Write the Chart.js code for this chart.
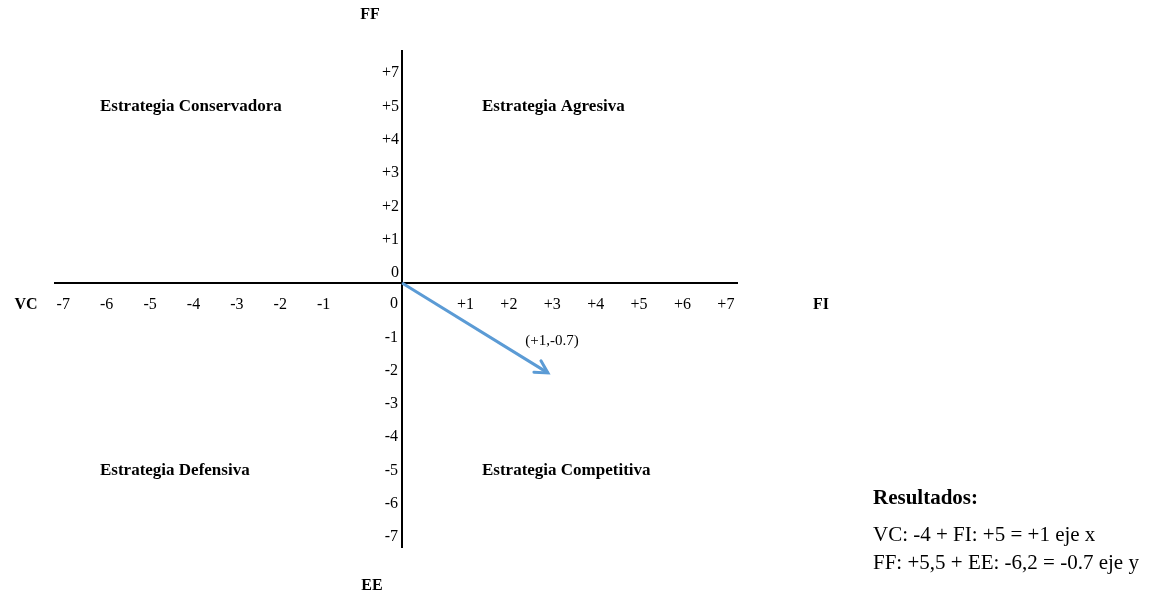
<!DOCTYPE html>
<html>
<head>
<meta charset="utf-8">
<title>Matriz PEEA</title>
<script src="https://cdn.jsdelivr.net/npm/chart.js@4.4.1/dist/chart.umd.min.js"></script>
<style>
  html, body { margin: 0; padding: 0; background: #fff; }
  #wrap { width: 1149px; height: 594px; }
</style>
</head>
<body>
<div id="wrap"><canvas id="peeaChart" width="1149" height="594"></canvas></div>
<script>
// tick labels as they are printed on the figure (upper half goes +5 -> +7)
const xTickLabels = ['-7', '-6', '-5', '-4', '-3', '-2', '-1', '+1', '+2', '+3', '+4', '+5', '+6', '+7'];
const xTickValues = [-7, -6, -5, -4, -3, -2, -1, 1, 2, 3, 4, 5, 6, 7];
const yTickLabelsUp = ['+7', '+5', '+4', '+3', '+2', '+1', '0'];
const yTickValuesUp = [6, 5, 4, 3, 2, 1, 0];
const yTickLabelsDown = ['0', '-1', '-2', '-3', '-4', '-5', '-6', '-7'];
const yTickValuesDown = [0, -1, -2, -3, -4, -5, -6, -7];

// axis names: left, right, top, bottom
const axisNames = ['VC', 'FI', 'FF', 'EE'];
// quadrants: top-left, top-right, bottom-left, bottom-right
const quadrants = ['Estrategia Conservadora', 'Estrategia Agresiva', 'Estrategia Defensiva', 'Estrategia Competitiva'];

// resulting vector (as drawn on the figure)
const vectorX = [0, 3.36];
const vectorY = [0, -2.7];
const vectorLabel = '(+1,-0.7)';

const results = ['Resultados:', 'VC: -4 + FI: +5 = +1 eje x', 'FF: +5,5 + EE: -6,2 = -0.7 eje y'];

const serif = '"Liberation Serif", "Times New Roman", serif';
const arrowColor = '#5B9BD5';

// draws the cross axes, the tick labels and all the text around the chart
const peeaPlugin = {
    id: 'peea',
    beforeDatasetsDraw(chart) {
        const { ctx, chartArea: area, scales: { x, y } } = chart;
        const x0 = Math.round(x.getPixelForValue(0));
        const y0 = Math.round(y.getPixelForValue(0));
        ctx.save();
        ctx.strokeStyle = '#000';
        ctx.lineWidth = 2;
        ctx.beginPath();
        ctx.moveTo(area.left, y0);
        ctx.lineTo(area.right, y0);
        ctx.moveTo(x0, area.top);
        ctx.lineTo(x0, area.bottom);
        ctx.stroke();

        ctx.fillStyle = '#000';
        ctx.textBaseline = 'middle';
        ctx.font = '16px ' + serif;
        ctx.textAlign = 'center';
        xTickValues.forEach((v, i) => {
            // labels sit off their tick, as in the original drawing
            const shift = v < 0 ? -35 : 20;
            ctx.fillText(xTickLabels[i], x.getPixelForValue(v) + shift, y0 + 22);
        });
        ctx.textAlign = 'right';
        yTickValuesUp.forEach((v, i) => {
            ctx.fillText(yTickLabelsUp[i], x0 - 3, y.getPixelForValue(v) - 10);
        });
        yTickValuesDown.forEach((v, i) => {
            ctx.fillText(yTickLabelsDown[i], x0 - 4, y.getPixelForValue(v) + 21);
        });

        // axis names
        ctx.font = 'bold 16px ' + serif;
        ctx.textAlign = 'center';
        ctx.fillText(axisNames[0], area.left - 28, y0 + 22);
        ctx.fillText(axisNames[1], area.right + 83, y0 + 22);
        ctx.fillText(axisNames[2], x0 - 32, area.top - 35);
        ctx.fillText(axisNames[3], x0 - 30, area.bottom + 38);

        // quadrant names
        ctx.font = 'bold 17px ' + serif;
        ctx.textAlign = 'left';
        const qy = [y.getPixelForValue(5) - 10, y.getPixelForValue(-5) + 21];
        ctx.fillText(quadrants[0], area.left + 46, qy[0]);
        ctx.fillText(quadrants[1], x0 + 80, qy[0]);
        ctx.fillText(quadrants[2], area.left + 46, qy[1]);
        ctx.fillText(quadrants[3], x0 + 80, qy[1]);

        // results box on the right
        const rx = area.right + 135;
        ctx.font = 'bold 21px ' + serif;
        ctx.fillText(results[0], rx, 499);
        ctx.font = '21px ' + serif;
        ctx.fillText(results[1], rx, 535);
        ctx.fillText(results[2], rx, 563);
        ctx.restore();
    },
    afterDatasetsDraw(chart) {
        const { ctx, scales: { x, y } } = chart;
        const n = vectorX.length - 1;
        const tx = x.getPixelForValue(vectorX[n]);
        const ty = y.getPixelForValue(vectorY[n]);
        const fx = x.getPixelForValue(vectorX[n - 1]);
        const fy = y.getPixelForValue(vectorY[n - 1]);
        const ang = Math.atan2(ty - fy, tx - fx);
        const len = 14;
        ctx.save();
        ctx.strokeStyle = arrowColor;
        ctx.lineWidth = 3;
        ctx.lineCap = 'round';
        ctx.beginPath();
        ctx.moveTo(tx - len * Math.cos(ang - 0.5), ty - len * Math.sin(ang - 0.5));
        ctx.lineTo(tx, ty);
        ctx.lineTo(tx - len * Math.cos(ang + 0.5), ty - len * Math.sin(ang + 0.5));
        ctx.stroke();

        ctx.fillStyle = '#000';
        ctx.font = '15px ' + serif;
        ctx.textAlign = 'center';
        ctx.textBaseline = 'middle';
        ctx.fillText(vectorLabel, tx + 4, ty - 32);
        ctx.restore();
    }
};

const ctx = document.getElementById('peeaChart').getContext('2d');
const peeaChart = new Chart(ctx, {
    type: 'scatter',
    data: {
        datasets: [{
            label: 'Vector',
            data: vectorX.map((vx, i) => ({ x: vx, y: vectorY[i] })),
            showLine: true,
            borderColor: arrowColor,
            borderWidth: 3,
            pointRadius: 0,
            clip: false
        }]
    },
    options: {
        responsive: false,
        animation: false,
        devicePixelRatio: 1,
        layout: {
            padding: { left: 54, right: 411, top: 50, bottom: 46 }
        },
        scales: {
            x: { type: 'linear', min: -8.02, max: 7.74, display: false },
            y: { type: 'linear', min: -7.96, max: 7.0, display: false }
        },
        plugins: {
            legend: { display: false },
            tooltip: { enabled: false }
        }
    },
    plugins: [peeaPlugin]
});
</script>
</body>
</html>
